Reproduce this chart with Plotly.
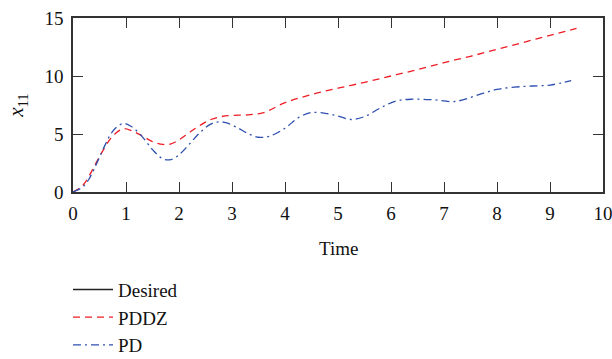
import plotly.graph_objects as go

# Tracking response of state x11 for the two controllers
t_pddz = [0, 0.1, 0.2, 0.3, 0.4, 0.5, 0.6, 0.7, 0.8, 0.95, 1.1, 1.3, 1.5, 1.7, 1.85, 2.0, 2.2,
          2.4, 2.6, 2.8, 3.0, 3.3, 3.6, 4.0, 4.5, 5.0, 5.5, 6.0, 6.5, 7.0, 7.5, 8.0, 8.5, 9.0, 9.5]
x_pddz = [0, 0.25, 0.65, 1.35, 2.2, 3.05, 3.85, 4.55, 5.05, 5.45, 5.3, 4.85, 4.35, 4.1, 4.15, 4.5, 5.15,
          5.75, 6.25, 6.5, 6.6, 6.65, 6.85, 7.7, 8.4, 8.95, 9.45, 10.0, 10.55, 11.15, 11.7, 12.3, 12.9, 13.5, 14.1]

t_pd = [0, 0.1, 0.2, 0.3, 0.4, 0.5, 0.6, 0.7, 0.8, 0.95, 1.1, 1.3, 1.5, 1.7, 1.85, 2.0, 2.2,
        2.4, 2.6, 2.75, 2.9, 3.1, 3.3, 3.5, 3.7, 4.0, 4.25, 4.5, 4.8, 5.0, 5.25, 5.5, 5.8, 6.1,
        6.4, 6.8, 7.2, 7.6, 8.0, 8.5, 9.0, 9.4]
x_pd = [0, 0.2, 0.5, 1.1, 2.0, 3.0, 4.0, 4.9, 5.5, 5.9, 5.65, 4.8, 3.65, 2.85, 2.8, 3.2, 4.15,
        5.15, 5.85, 6.05, 5.95, 5.55, 5.05, 4.72, 4.8, 5.5, 6.4, 6.85, 6.75, 6.55, 6.25, 6.5, 7.25, 7.85,
        8.0, 7.95, 7.8, 8.3, 8.85, 9.1, 9.22, 9.6]

x_ticks = list(range(0, 11))
y_ticks = [0, 5, 10, 15]

font_family = "Liberation Serif"
fs = 19

fig = go.Figure()

# Reference signal: legend entry only
fig.add_trace(go.Scatter(x=[None], y=[None], mode="lines", name="Desired",
                         line=dict(color="#222222", width=1.5)))
fig.add_trace(go.Scatter(x=t_pddz, y=x_pddz, mode="lines", name="PDDZ",
                         line=dict(color="#ee1c25", width=1.3, dash="7px,5px", shape="spline")))
fig.add_trace(go.Scatter(x=t_pd, y=x_pd, mode="lines", name="PD",
                         line=dict(color="#2e4fae", width=1.3, dash="8px,4px,2px,4px", shape="spline")))

axis_common = dict(
    showgrid=False, zeroline=False, showline=True, mirror="ticks",
    linecolor="#333333", linewidth=1.5, ticklabeloverflow="allow",
    ticks="inside", ticklen=10, tickwidth=1.3, tickcolor="#333333",
    tickfont=dict(family=font_family, size=fs, color="#111111"),
)

fig.update_layout(
    width=612, height=359,
    margin=dict(l=73, r=9, t=18, b=167, autoexpand=False),
    paper_bgcolor="white", plot_bgcolor="white",
    font=dict(family=font_family, size=fs, color="#111111"),
    xaxis=dict(range=[0, 10], tickvals=x_ticks, ticklabelstandoff=3, **axis_common),
    yaxis=dict(range=[0, 15], tickvals=y_ticks, ticklabelstandoff=4,
               title=dict(text="<i>x</i><sub>11</sub>", font=dict(family=font_family, size=21), standoff=15),
               **axis_common),
    showlegend=True,
    legend=dict(x=-0.0094, y=-0.452, xanchor="left", yanchor="top", orientation="v",
                font=dict(family=font_family, size=fs), tracegroupgap=0,
                bgcolor="rgba(0,0,0,0)", itemwidth=40),
    annotations=[dict(text="Time", xref="paper", yref="paper", x=0.5, y=-0.322,
                      xanchor="center", yanchor="middle", showarrow=False,
                      font=dict(family=font_family, size=fs, color="#111111"))],
)

fig.write_html("out.html")
